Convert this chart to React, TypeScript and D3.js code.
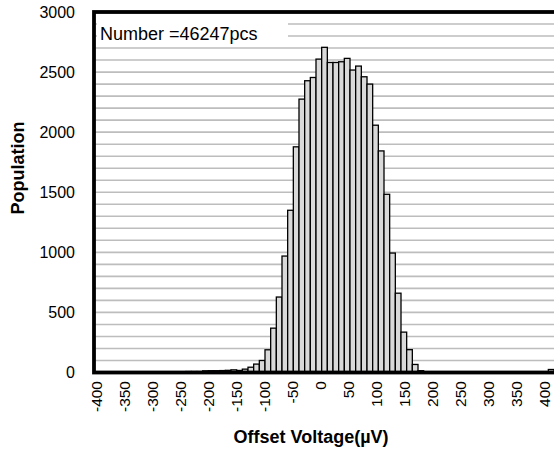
import * as d3 from 'd3';
import { useEffect, useRef } from 'react';

// offset voltage bins (µV), one bar per 10 µV
const bins: number[] = d3.range(-400, 401, 10);

// population per bin (-400 ... 400)
const counts: number[] = [
  0, 0, 0, 0, 0, 0, 0, 0, 0, 0, // -400 .. -310
  0, 0, 0, 0, 0, 3, 8, 8, 8, 14, // -300 .. -210
  15, 15, 16, 18, 22, 17, 28, 44, 70, 100, // -200 .. -110
  189, 369, 628, 969, 1350, 1878, 2275, 2428, 2455, 2608, // -100 .. -10
  2706, 2580, 2580, 2586, 2614, 2517, 2550, 2461, 2400, 2058, // 0 .. 90
  1844, 1483, 994, 660, 336, 190, 67, 15, 6, 3, // 100 .. 190
  2, 0, 0, 0, 0, 0, 0, 0, 0, 0, // 200 .. 290
  0, 0, 0, 0, 0, 0, 0, 0, 0, 0, // 300 .. 390
  25, // 400
];

const xTicks: number[] = [-400, -350, -300, -250, -200, -150, -100, -50, 0, 50, 100, 150, 200, 250, 300, 350, 400];
const yTicks: number[] = [0, 500, 1000, 1500, 2000, 2500, 3000];
const gridValues: number[] = d3.range(100, 3000, 100);
const noteText = 'Number =46247pcs';

const font = 'Arial, "Liberation Sans", sans-serif';

export default function App() {
  const ref = useRef<SVGSVGElement>(null);

  useEffect(() => {
    const svg = d3.select(ref.current);
    svg.selectAll('*').remove();

    const left = 94;
    const right = 554;
    const top = 12;
    const bottom = 372.5;

    const data = bins.map((b, i) => ({ bin: b, count: counts[i] }));

    const x = d3.scaleBand<string>()
      .domain(bins.map(String))
      .range([95, 554])
      .padding(0);

    // tick labels sit a little inside the bar centres, like the original
    const xLabel = d3.scaleLinear()
      .domain([-400, 400])
      .range([97, 545]);

    const y = d3.scaleLinear()
      .domain([0, 3000])
      .range([bottom, top]);

    // horizontal gridlines
    svg.append('g')
      .selectAll('line')
      .data(gridValues)
      .enter()
      .append('line')
      .attr('x1', left)
      .attr('x2', right)
      .attr('y1', d => y(d))
      .attr('y2', d => y(d))
      .attr('stroke', '#bdbdbd')
      .attr('stroke-width', 1.6);

    // text box with the sample count
    svg.append('rect')
      .attr('x', 97)
      .attr('y', 20)
      .attr('width', 191)
      .attr('height', 26.5)
      .attr('fill', '#fff');
    svg.append('text')
      .attr('x', 100)
      .attr('y', 39.5)
      .attr('font-family', font)
      .attr('font-size', 18)
      .attr('fill', '#000')
      .text(noteText);

    // bars
    svg.append('g')
      .selectAll('rect')
      .data(data)
      .enter()
      .append('rect')
      .attr('x', d => x(String(d.bin)) as number)
      .attr('y', d => y(d.count))
      .attr('width', x.bandwidth())
      .attr('height', d => bottom - y(d.count))
      .attr('fill', '#d9d9d9')
      .attr('stroke', '#000')
      .attr('stroke-width', 1.3);

    // plot frame
    svg.append('rect')
      .attr('x', left)
      .attr('y', top)
      .attr('width', right - left + 4)
      .attr('height', bottom - top)
      .attr('fill', 'none')
      .attr('stroke', '#000')
      .attr('stroke-width', 3.8);

    // y tick labels
    svg.append('g')
      .selectAll('text')
      .data(yTicks)
      .enter()
      .append('text')
      .attr('x', 75)
      .attr('y', d => y(d))
      .attr('dy', '0.36em')
      .attr('text-anchor', 'end')
      .attr('font-family', font)
      .attr('font-size', 16)
      .text(d => d);

    // x tick labels, every 50 µV, rotated
    svg.append('g')
      .selectAll('text')
      .data(xTicks)
      .enter()
      .append('text')
      .attr('transform', d => `translate(${xLabel(d)},381) rotate(-90)`)
      .attr('dy', '0.33em')
      .attr('text-anchor', 'end')
      .attr('font-family', font)
      .attr('font-size', 15.5)
      .text(d => d);

    // axis titles
    svg.append('text')
      .attr('x', 311)
      .attr('y', 443)
      .attr('text-anchor', 'middle')
      .attr('font-family', font)
      .attr('font-size', 18)
      .attr('font-weight', 'bold')
      .text('Offset Voltage(µV)');

    svg.append('text')
      .attr('transform', 'translate(24,168) rotate(-90)')
      .attr('text-anchor', 'middle')
      .attr('font-family', font)
      .attr('font-size', 18)
      .attr('font-weight', 'bold')
      .text('Population');
  }, []);

  return (
    <svg
      ref={ref}
      width={554}
      height={457}
      style={{ position: 'absolute', left: 0, top: 0, background: '#fff' }}
    />
  );
}
